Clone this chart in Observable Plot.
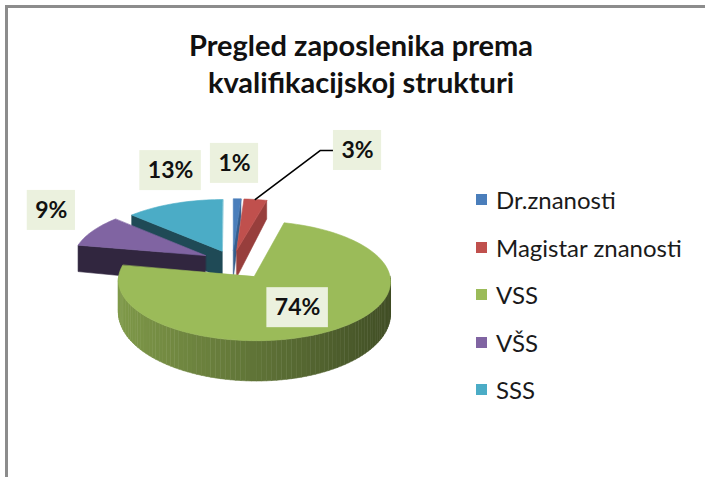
<!DOCTYPE html>
<html><head><meta charset="utf-8">
<script src="https://cdn.jsdelivr.net/npm/d3@7"></script>
<script src="https://cdn.jsdelivr.net/npm/@observablehq/plot@0.6"></script>
<style>
body{margin:0;background:#fff;}
#wrap{position:relative;width:705px;height:477px;overflow:hidden;background:#fff;font-family:Lato,"Open Sans",sans-serif;}
#frame{position:absolute;left:5px;top:5px;width:800px;height:600px;border-top:3px solid #8c8c8c;border-left:3px solid #8c8c8c;}
#title{position:absolute;left:0;top:0;width:722px;height:110px;box-sizing:border-box;padding-top:26px;text-align:center;font-weight:bold;font-size:29px;line-height:37px;color:#111;}
#chart{position:absolute;left:0;top:110px;}
#legend{position:absolute;left:476px;top:176px;}
.item{height:47.5px;display:flex;align-items:center;font-size:24px;color:#1a1a1a;white-space:nowrap;}
.sw{width:11px;height:11px;margin-right:9px;flex:none;}
</style></head>
<body>
<div id="wrap">
  <div id="frame"></div>
  <div id="title">Pregled zaposlenika prema<br>kvalifikacijskoj strukturi</div>
  <div id="chart"></div>
  <div id="legend"></div>
</div>
<script>
// ---- data ----
const categories = ["Dr.znanosti", "Magistar znanosti", "VSS", "VŠS", "SSS"];
const shares = [1, 3, 74, 9, 13];
const labels = ["1%", "3%", "74%", "9%", "13%"];

// ---- style ----
const topColors = ["#4a7ebb", "#c0504d", "#9bbb59", "#8064a2", "#4bacc6"];
const cutColors = ["#355d8c", "#973e3c", "#5f7535", "#31263f", "#1f4a56"];
const explode = [0.2, 0.2, 0.3, 0.23, 0.2];
const labelR = [1.98, 2.54, 0.89, 1.75, 1.89];
const labelDelta = [-1.3, 16.8, 1.2, 6.3, 7.1];
const leader = [false, true, false, false, false];
const W = 705, H = 367;
const CX = 232, CY = 151, RX = 133, A = 57.1, D = 13;

const rad = d => d * Math.PI / 180;
const depthPx = Z => 29 - 9 * Z;
function P(X, Z, h) { const s = D / (D + Z); return {x: X * s, y: Z * s - h * depthPx(Z) / A}; }

const total = d3.sum(shares);
let cum = 0;
const slices = shares.map((v, i) => {
  const a0 = cum / total * 360; cum += v; const a1 = cum / total * 360; const m = (a0 + a1) / 2;
  return {i, a0, a1, m, ex: explode[i] * Math.sin(rad(m)), ez: explode[i] * Math.cos(rad(m))};
});
const pt = (s, th, r, h) => P(s.ex + r * Math.sin(rad(th)), s.ez + r * Math.cos(rad(th)), h);
function arcThetas(a0, a1) { const n = Math.max(2, Math.ceil((a1 - a0) / 2)); return d3.range(n + 1).map(k => a0 + (a1 - a0) * k / n); }

const order = d3.sort(slices, s => -Math.cos(rad(s.m)));
const polys = [];
let pid = 0;
function addPoly(pts, c) { const id = pid++; for (const p of pts) polys.push({id, x: p.x, y: p.y, c}); }
for (const s of order) {
  const top = d3.color(topColors[s.i]);
  for (const [th, nz] of [[s.a0, Math.sin(rad(s.a0))], [s.a1, -Math.sin(rad(s.a1))]]) {
    if (nz < 0) addPoly([pt(s, th, 0, 0), pt(s, th, 1, 0), pt(s, th, 1, 1), pt(s, th, 0, 1)], cutColors[s.i]);
  }
  const b0 = Math.max(s.a0, 90), b1 = Math.min(s.a1, 270);
  if (b1 > b0) {
    const ths = arcThetas(b0, b1);
    const interp = d3.interpolateRgb(top.darker(0.55), top.darker(2.5));
    for (let k = 0; k < ths.length - 1; k++) {
      const t0 = ths[k], t1 = ths[k + 1];
      const X = Math.sin(rad((t0 + t1) / 2));
      addPoly([pt(s, t0, 1, 0), pt(s, t1, 1, 0), pt(s, t1, 1, 1), pt(s, t0, 1, 1)], interp((X + 1) / 2));
    }
  }
  addPoly([P(s.ex, s.ez, 0), ...arcThetas(s.a0, s.a1).map(th => pt(s, th, 1, 0))], topColors[s.i]);
}

const ctx = document.createElement("canvas").getContext("2d");
ctx.font = "bold 23px Lato";
const labelData = slices.map(s => {
  const phi = s.m + labelDelta[s.i];
  const p = P(labelR[s.i] * Math.sin(rad(phi)), labelR[s.i] * Math.cos(rad(phi)), 0);
  const w = ctx.measureText(labels[s.i]).width;
  const hw = (w / 2 + 8) / RX, hh = 20 / A;
  return {x: p.x, y: p.y, text: labels[s.i], x1: p.x - hw, x2: p.x + hw, y1: p.y - hh, y2: p.y + hh, s};
});
const leaderPts = [];
labelData.forEach((l, j) => {
  if (!leader[l.s.i]) return;
  const a = pt(l.s, l.s.m, 1, 0);
  leaderPts.push({g: j, x: a.x, y: a.y}, {g: j, x: l.x1 - 13 / RX, y: l.y}, {g: j, x: l.x1, y: l.y});
});

const chart = Plot.plot({
  width: W, height: H, margin: 0,
  style: {fontFamily: "Lato, sans-serif", background: "transparent"},
  x: {domain: [-CX / RX, (W - CX) / RX], axis: null},
  y: {domain: [(CY - H) / A, CY / A], axis: null},
  color: {type: "identity"},
  marks: [
    Plot.line(polys, {x: "x", y: "y", z: "id", fill: "c", stroke: "c", strokeWidth: 0.6, curve: "linear-closed"}),
    Plot.line(leaderPts, {x: "x", y: "y", z: "g", stroke: "#000", strokeWidth: 1.6}),
    Plot.rect(labelData, {x1: "x1", x2: "x2", y1: "y1", y2: "y2", fill: "#ebf1de"}),
    Plot.text(labelData, {x: "x", y: "y", text: "text", fontSize: 23, fontWeight: "bold", fill: "#111"})
  ]
});
document.getElementById("chart").appendChild(chart);

const legend = document.getElementById("legend");
categories.forEach((c, i) => {
  const item = document.createElement("div"); item.className = "item";
  const sw = document.createElement("span"); sw.className = "sw"; sw.style.background = topColors[i];
  const t = document.createElement("span"); t.textContent = c;
  item.appendChild(sw); item.appendChild(t); legend.appendChild(item);
});
</script>
</body></html>
